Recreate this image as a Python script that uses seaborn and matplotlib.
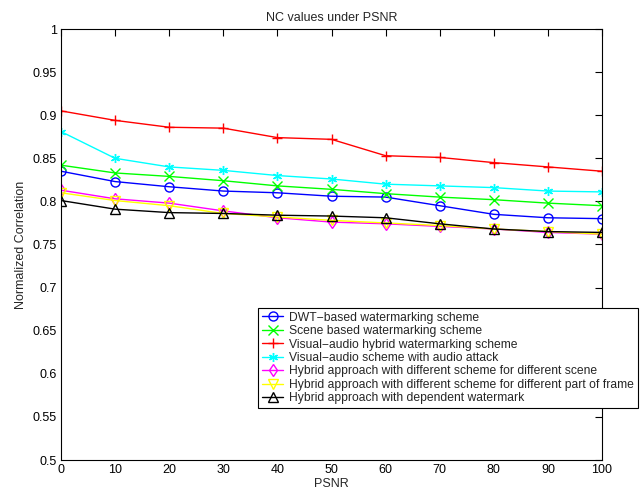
import matplotlib
matplotlib.use("Agg")
import matplotlib.pyplot as plt
import seaborn as sns
import numpy as np

psnr = [0, 10, 20, 30, 40, 50, 60, 70, 80, 90, 100]
dwt = [0.835, 0.823, 0.817, 0.812, 0.810, 0.806, 0.805, 0.795, 0.785, 0.781, 0.780]
scene = [0.842, 0.833, 0.829, 0.824, 0.818, 0.814, 0.809, 0.805, 0.802, 0.798, 0.795]
visual_audio = [0.905, 0.894, 0.886, 0.885, 0.874, 0.872, 0.853, 0.851, 0.845, 0.840, 0.835]
visual_audio_attack = [0.881, 0.850, 0.840, 0.836, 0.830, 0.826, 0.820, 0.818, 0.816, 0.812, 0.811]
hybrid_scene = [0.813, 0.803, 0.798, 0.789, 0.781, 0.776, 0.774, 0.771, 0.768, 0.764, 0.762]
hybrid_part = [0.810, 0.801, 0.795, 0.786, 0.782, 0.778, 0.775, 0.772, 0.768, 0.765, 0.762]
hybrid_dep = [0.801, 0.791, 0.787, 0.786, 0.784, 0.783, 0.781, 0.774, 0.768, 0.765, 0.764]

labels = [
    "DWT\u2212based watermarking scheme",
    "Scene based watermarking scheme",
    "Visual\u2212audio hybrid watermarking scheme",
    "Visual\u2212audio scheme with audio attack",
    "Hybrid approach with different scheme for different scene",
    "Hybrid approach with different scheme for different part of frame",
    "Hybrid approach with dependent watermark",
]
series = [dwt, scene, visual_audio, visual_audio_attack, hybrid_scene, hybrid_part, hybrid_dep]
colors = ["#0000ff", "#00ff00", "#ff0000", "#00ffff", "#ff00ff", "#ffff00", "#000000"]
markers = ["o", "x", "+", (6, 2, 0), "d", "v", "^"]

sns.set_style("white")
plt.rcParams["font.family"] = ["Liberation Sans", "DejaVu Sans"]
plt.rcParams["font.size"] = 9

fig = plt.figure(figsize=(6.4, 4.9), dpi=100)
ax = fig.add_axes([61 / 640, 1 - 460 / 490, (602 - 61) / 640, (460 - 29) / 490])

for vals, lab, c, m in zip(series, labels, colors, markers):
    sns.lineplot(x=psnr, y=vals, ax=ax, color=c, marker=m, label=lab,
                 markersize=6.5, markerfacecolor="none", markeredgecolor=c,
                 markeredgewidth=1, linewidth=1)

ax.set_xlim(0, 100)
ax.set_ylim(0.5, 1)
ax.set_xticks(np.arange(0, 101, 10))
yt = np.round(np.arange(0.5, 1.0001, 0.05), 2)
ax.set_yticks(yt)
ax.set_yticklabels(["%g" % v for v in yt])
ax.tick_params(direction="in", length=5, width=0.8, top=True, right=True,
               labelsize=9, colors="black", pad=3)
for s in ax.spines.values():
    s.set_color("black")
    s.set_linewidth(0.8)
ax.set_xlabel("PSNR", fontsize=9, labelpad=1)
ax.set_ylabel("Normalized Correlation", fontsize=9, labelpad=4)
ax.set_title("NC values under PSNR", fontsize=9, pad=6)

ax.get_legend().remove()
h, l = ax.get_legend_handles_labels()
leg = fig.legend(h, l, loc="upper left", bbox_to_anchor=(258 / 640, 1 - 308 / 490),
                 frameon=True, fancybox=False, framealpha=1, edgecolor="black",
                 fontsize=8.7, labelspacing=0.12, handlelength=1.8, handletextpad=0.5,
                 borderpad=0.3, borderaxespad=0)
leg.get_frame().set_linewidth(0.8)

fig.savefig("out.png", dpi=100)
